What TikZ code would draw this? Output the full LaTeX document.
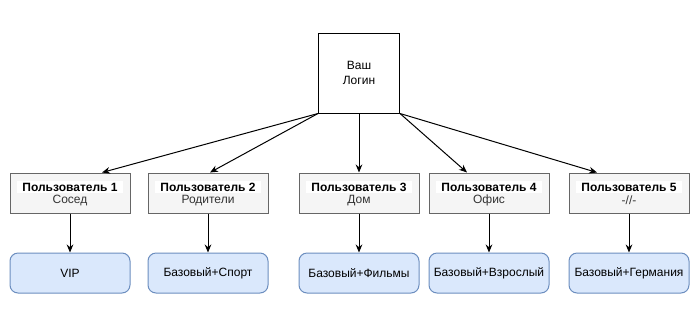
\documentclass[tikz,border=0pt]{standalone}
\usepackage{fontspec}
\setmainfont{Liberation Sans}
\usetikzlibrary{arrows.meta,positioning}
\definecolor{BoxGray}{HTML}{F5F5F5}
\definecolor{EdgeGray}{HTML}{666666}
\definecolor{TextGray}{HTML}{333333}
\definecolor{PlanBlue}{HTML}{DAE8FC}
\definecolor{PlanEdge}{HTML}{6C8EBF}

\begin{document}
\begin{tikzpicture}[x=0.75pt,y=-0.75pt,font=\fontsize{9}{11}\selectfont,line width=0.75pt,
    userbox/.style={draw=EdgeGray,fill=BoxGray,minimum width=90pt,minimum height=30pt},
    planbox/.style={draw=PlanEdge,fill=PlanBlue,rounded corners=6pt,minimum width=90pt,minimum height=30pt},
    link/.style={-{Stealth[length=6pt,width=5pt]}}]
  \useasboundingbox (0,0) rectangle (700,312);
  \node[draw,fill=white,minimum width=60.75pt,minimum height=60pt,align=center,inner sep=0pt] (login) at (359,73) {Ваш\\Логин};
  \foreach \i/\x/\role/\plan in {
    1/70/Сосед/VIP,2/208/Родители/Базовый+Спорт,3/359/Дом/Базовый+Фильмы,
    4/489/Офис/Базовый+Взрослый,5/629/{-//-}/Базовый+Германия}
    {
      \node[userbox] (u\i) at (\x,193) {};
      \node[fill=white,inner xsep=4pt,inner ysep=1.5pt,font=\fontsize{9}{11}\selectfont\bfseries] (n\i) at (\x,187) {Пользователь \i};
      \node[text=TextGray] (r\i) at (\x,200.5) {\role};
      \node[planbox] (p\i) at (\x,273) {\plan};
      \draw[link] (u\i) -- (p\i);
    }
  \draw[link] (login.south west) -- ([xshift=24pt]u1.north);
  \draw[link] (login.south west) -- ([xshift=1.5pt]u2.north);
  \draw[link] (login) -- (u3);
  \draw[link] (login.south east) -- ([xshift=-16.5pt]u4.north);
  \draw[link] (login.south east) -- ([xshift=-24pt]u5.north);
\end{tikzpicture}
\end{document}
